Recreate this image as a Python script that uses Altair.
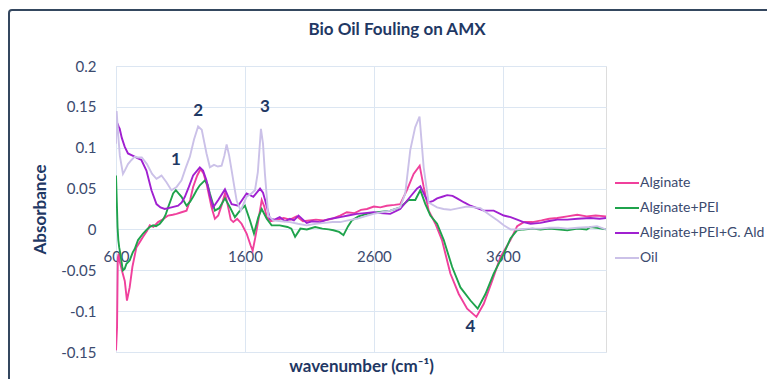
import altair as alt
import pandas as pd

series_names = ["Alginate", "Alginate+PEI", "Alginate+PEI+G. Ald", "Oil"]
series_colors = ["#f0409c", "#1fa34c", "#a020d0", "#cbc1e8"]

alg_wn = [600, 608, 614, 620, 630, 649, 668, 685, 706, 727, 758, 790, 810, 840, 862, 890, 926, 960, 1004, 1040,
          1069, 1108, 1147, 1175, 1198, 1230, 1256, 1280, 1302, 1341, 1367, 1393, 1420, 1445, 1465, 1490, 1510, 1540,
          1574, 1613, 1645, 1660, 1680, 1705, 1730, 1750, 1769, 1800, 1850, 1900, 1950, 2000, 2050, 2100, 2150, 2209,
          2274, 2338, 2390, 2450, 2500, 2546, 2600, 2650, 2700, 2760, 2804, 2856, 2908, 2955, 2986, 3025, 3077, 3128,
          3193, 3258, 3323, 3395, 3452, 3517, 3581, 3659, 3711, 3763, 3830, 3900, 3960, 4022, 4100, 4177, 4250, 4320,
          4400]
alg_abs = [-0.148, -0.120, -0.035, -0.030, -0.040, -0.052, -0.063, -0.087, -0.071, -0.046, -0.022, -0.014, -0.009,
           -0.002, 0.005, 0.003, 0.009, 0.012, 0.017, 0.018, 0.019, 0.021, 0.023, 0.036, 0.052, 0.066, 0.074, 0.068,
           0.056, 0.027, 0.013, 0.017, 0.030, 0.044, 0.031, 0.012, 0.009, 0.013, 0.007, -0.005, -0.020, -0.026,
           -0.010, 0.012, 0.036, 0.028, 0.015, 0.010, 0.012, 0.014, 0.012, 0.016, 0.010, 0.011, 0.012, 0.011, 0.013,
           0.017, 0.021, 0.020, 0.024, 0.025, 0.028, 0.027, 0.029, 0.030, 0.031, 0.048, 0.068, 0.078, 0.052, 0.023,
           0.007, -0.013, -0.054, -0.079, -0.097, -0.107, -0.091, -0.063, -0.034, -0.013, 0.004, 0.009, 0.009, 0.011,
           0.013, 0.014, 0.016, 0.018, 0.016, 0.017, 0.016]

pei_wn = [600, 606, 612, 618, 625, 634, 648, 654, 668, 681, 706, 730, 745, 771, 810, 840, 862, 888, 910, 940, 965,
          985, 1004, 1025, 1043, 1064, 1085, 1108, 1147, 1175, 1198, 1225, 1250, 1289, 1310, 1328, 1367, 1400, 1445,
          1484, 1522, 1561, 1600, 1639, 1670, 1704, 1730, 1769, 1807, 1870, 1930, 1960, 1989, 2030, 2080, 2144, 2200,
          2250, 2286, 2330, 2364, 2400, 2429, 2480, 2546, 2630, 2727, 2804, 2869, 2921, 2960, 2999, 3038, 3090, 3142,
          3207, 3271, 3349, 3405, 3465, 3529, 3607, 3659, 3711, 3760, 3830, 3892, 3960, 4022, 4100, 4180, 4250, 4280,
          4330, 4400]
pei_abs = [0.066, 0.035, 0.003, -0.013, -0.022, -0.030, -0.045, -0.050, -0.048, -0.042, -0.038, -0.028, -0.024,
           -0.013, -0.005, 0.000, 0.003, 0.005, 0.004, 0.007, 0.012, 0.018, 0.027, 0.036, 0.044, 0.048, 0.044, 0.040,
           0.029, 0.034, 0.040, 0.048, 0.054, 0.060, 0.055, 0.044, 0.023, 0.026, 0.038, 0.027, 0.015, 0.023, 0.029,
           0.011, -0.005, 0.015, 0.025, 0.013, 0.005, 0.005, 0.003, 0.001, -0.009, 0.001, 0.000, 0.003, 0.001, 0.000,
           -0.001, -0.003, -0.007, 0.004, 0.011, 0.016, 0.019, 0.021, 0.023, 0.027, 0.036, 0.036, 0.048, 0.031, 0.017,
           0.007, -0.013, -0.046, -0.071, -0.087, -0.097, -0.079, -0.054, -0.030, -0.011, -0.001, 0.000, 0.001, 0.000,
           0.001, 0.000, -0.001, 0.001, 0.000, 0.003, 0.002, 0.000]

ald_wn = [600, 603, 610, 620, 629, 645, 668, 693, 720, 745, 770, 797, 836, 875, 914, 945, 978, 1030, 1082, 1110,
          1134, 1165, 1198, 1250, 1275, 1302, 1330, 1354, 1393, 1445, 1470, 1497, 1548, 1561, 1613, 1665, 1717, 1740,
          1756, 1794, 1830, 1870, 1910, 1949, 1980, 2015, 2050, 2079, 2120, 2183, 2220, 2260, 2300, 2338, 2400, 2468,
          2530, 2597, 2650, 2727, 2804, 2882, 2934, 2960, 2999, 3024, 3060, 3090, 3130, 3168, 3210, 3245, 3300, 3349,
          3400, 3452, 3529, 3607, 3660, 3711, 3760, 3815, 3892, 3950, 4022, 4100, 4180, 4280, 4350, 4400]
ald_abs = [0.109, 0.133, 0.130, 0.126, 0.123, 0.112, 0.101, 0.093, 0.091, 0.089, 0.087, 0.085, 0.072, 0.048, 0.031,
           0.027, 0.025, 0.027, 0.029, 0.033, 0.040, 0.052, 0.066, 0.076, 0.072, 0.060, 0.040, 0.027, 0.036, 0.049,
           0.040, 0.031, 0.029, 0.032, 0.044, 0.040, 0.050, 0.045, 0.036, 0.013, 0.012, 0.015, 0.010, 0.013, 0.011,
           0.017, 0.012, 0.008, 0.010, 0.009, 0.011, 0.013, 0.014, 0.015, 0.017, 0.019, 0.020, 0.021, 0.020, 0.019,
           0.025, 0.040, 0.050, 0.053, 0.040, 0.033, 0.035, 0.038, 0.040, 0.042, 0.041, 0.038, 0.033, 0.029, 0.026,
           0.023, 0.023, 0.017, 0.015, 0.012, 0.009, 0.007, 0.008, 0.010, 0.012, 0.012, 0.013, 0.014, 0.013, 0.014]

oil_wn = [600, 605, 615, 630, 654, 668, 693, 720, 745, 770, 800, 840, 880, 914, 935, 953, 990, 1030, 1070, 1108,
          1140, 1173, 1205, 1237, 1265, 1302, 1328, 1360, 1390, 1419, 1440, 1458, 1478, 1497, 1520, 1536, 1567, 1613,
          1650, 1678, 1700, 1724, 1740, 1755, 1781, 1820, 1880, 1950, 2010, 2079, 2150, 2220, 2280, 2338, 2400, 2468,
          2530, 2597, 2660, 2727, 2804, 2843, 2882, 2920, 2954, 2986, 3024, 3090, 3140, 3193, 3260, 3323, 3380, 3426,
          3504, 3560, 3607, 3659, 3711, 3800, 3892, 3960, 4030, 4100, 4180, 4280, 4330, 4400]
oil_abs = [0.105, 0.145, 0.120, 0.090, 0.068, 0.072, 0.080, 0.085, 0.089, 0.088, 0.088, 0.080, 0.068, 0.062, 0.064,
           0.066, 0.058, 0.048, 0.052, 0.060, 0.075, 0.089, 0.110, 0.126, 0.122, 0.093, 0.076, 0.079, 0.077, 0.078,
           0.090, 0.104, 0.090, 0.072, 0.050, 0.035, 0.023, 0.040, 0.044, 0.048, 0.070, 0.123, 0.105, 0.068, 0.017,
           0.011, 0.010, 0.009, 0.007, 0.005, 0.007, 0.008, 0.009, 0.009, 0.011, 0.013, 0.016, 0.019, 0.021, 0.023,
           0.027, 0.044, 0.097, 0.125, 0.138, 0.076, 0.033, 0.027, 0.025, 0.024, 0.026, 0.028, 0.027, 0.026, 0.017,
           0.011, 0.005, 0.000, 0.000, 0.001, 0.001, 0.002, 0.002, 0.001, 0.002, 0.003, 0.004, 0.000]

x_ticks = [600, 1600, 2600, 3600]
peak_labels = ["1", "2", "3", "4"]
peak_x = [1064, 1237, 1755, 3348]
peak_y = [0.085, 0.145, 0.150, -0.120]

rows = []
for name, wn, ab in [(series_names[0], alg_wn, alg_abs), (series_names[1], pei_wn, pei_abs),
                     (series_names[2], ald_wn, ald_abs), (series_names[3], oil_wn, oil_abs)]:
    for w, a in zip(wn, ab):
        rows.append({"series": name, "wavenumber": w, "absorbance": a})
df = pd.DataFrame(rows)
peaks = pd.DataFrame({"label": peak_labels, "wavenumber": peak_x, "absorbance": peak_y})

FONT = "Lato"
NAVY = "#1f3864"
TICK = "#3b4a6e"
GRID = "#dce6f2"

xscale = alt.Scale(domain=[600, 4400], nice=False, zero=False)
yscale = alt.Scale(domain=[-0.15, 0.2], nice=False, zero=False)

lines = alt.Chart(df).mark_line(strokeWidth=1.9, clip=True).encode(
    x=alt.X("wavenumber:Q", scale=xscale,
            axis=alt.Axis(values=x_ticks, format="d", title="wavenumber (cm⁻¹)", offset=-123, grid=True,
                          gridColor=GRID, domainColor=GRID, ticks=False, labelPadding=20, labelFlush=False,
                          labelFont=FONT, labelFontSize=15, labelColor=TICK,
                          titleFont=FONT, titleFontSize=17, titleFontWeight="bold", titleColor=NAVY,
                          titlePadding=94, labelOverlap=False)),
    y=alt.Y("absorbance:Q", scale=yscale,
            axis=alt.Axis(values=[-0.15, -0.1, -0.05, 0, 0.05, 0.1, 0.15, 0.2], title="Absorbance",
                          grid=True, gridColor=GRID, domain=False, ticks=False, labelPadding=20,
                          labelExpr="toString(round(datum.value*100)/100)",
                          labelFont=FONT, labelFontSize=15, labelColor=TICK,
                          titleFont=FONT, titleFontSize=17, titleFontWeight="bold", titleColor=NAVY,
                          titlePadding=11)),
    color=alt.Color("series:N", sort=series_names,
                    scale=alt.Scale(domain=series_names, range=series_colors),
                    legend=alt.Legend(title=None, orient="none", legendX=498, legendY=104,
                                      symbolType="stroke", symbolSize=576, symbolStrokeWidth=2,
                                      labelFont=FONT, labelFontSize=14, labelColor=TICK,
                                      rowPadding=5, labelOffset=0, labelLimit=400)),
)

texts = alt.Chart(peaks).mark_text(font=FONT, fontSize=17, fontWeight="bold", color=NAVY).encode(
    x=alt.X("wavenumber:Q", scale=xscale),
    y=alt.Y("absorbance:Q", scale=yscale),
    text="label:N",
)

border = alt.Chart(alt.Data(values=[{"k": 1}])).mark_rect(
    filled=False, stroke="#34475f", strokeWidth=2, cornerRadius=3
).encode(x=alt.value(-107), x2=alt.value(720), y=alt.value(-56), y2=alt.value(400))

chart = alt.layer(border, lines, texts).properties(
    width=490, height=286,
    title=alt.Title("Bio Oil Fouling on AMX", font=FONT, fontSize=17, fontWeight="bold", color=NAVY,
                    anchor="middle", dx=36, offset=0, dy=30),
    autosize=alt.AutoSizeParams(type="none"),
    padding={"left": 108, "top": 58, "right": 161, "bottom": 27},
).configure_view(stroke=None).configure(background="white")

chart.save("out.html", embed_options={"renderer": "svg", "actions": False})
